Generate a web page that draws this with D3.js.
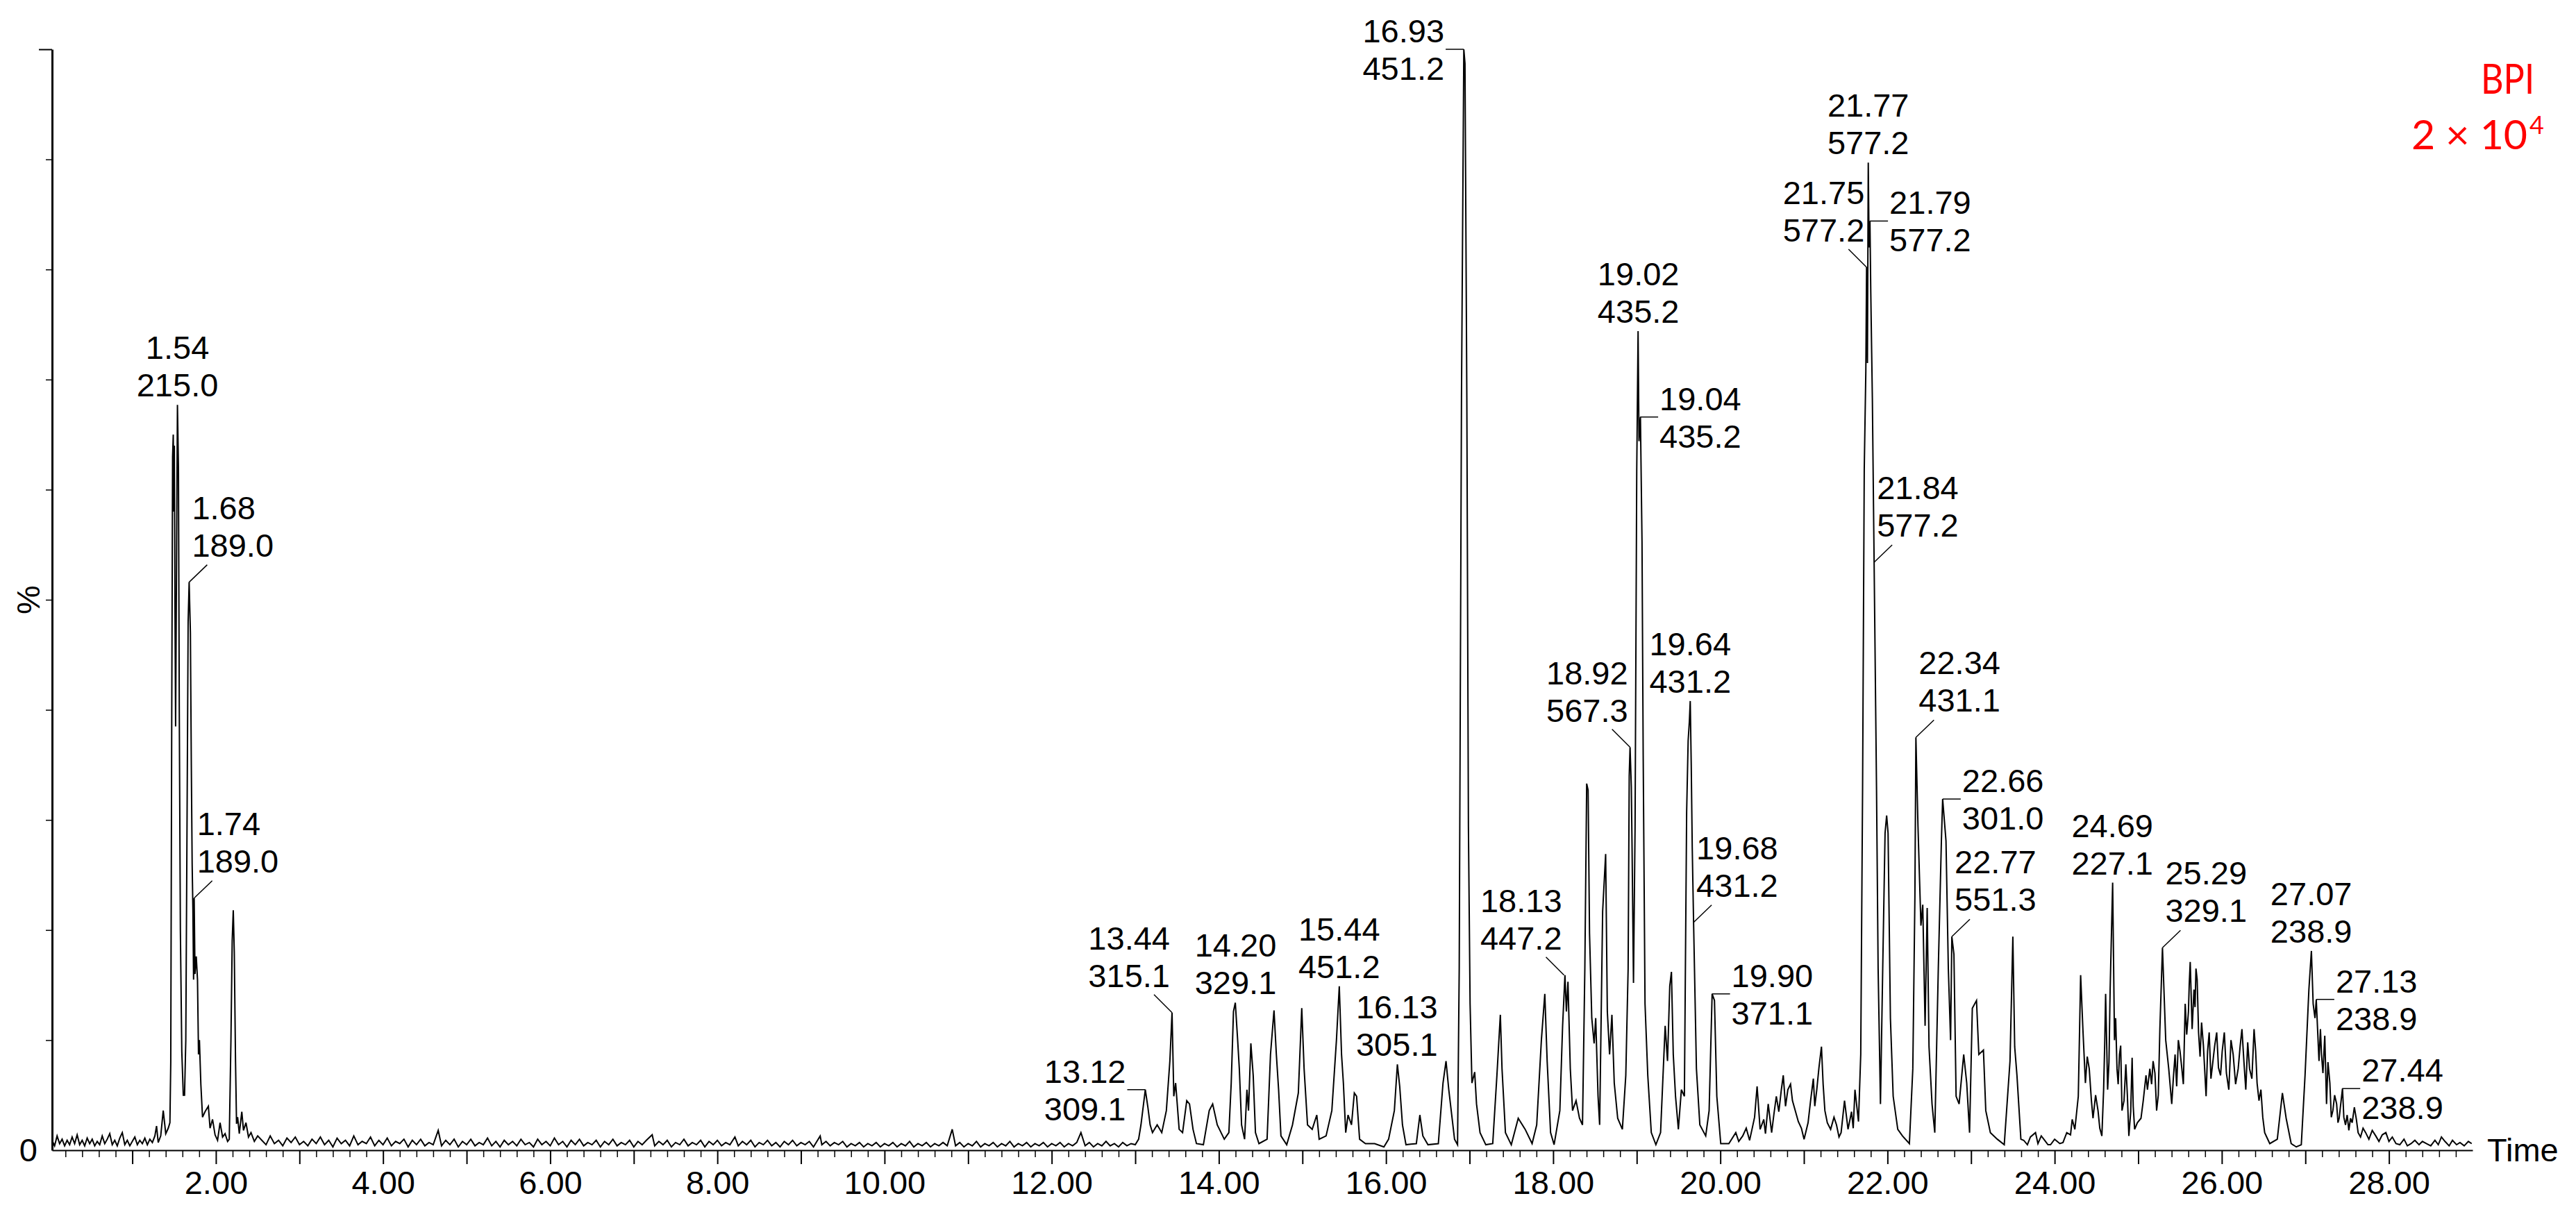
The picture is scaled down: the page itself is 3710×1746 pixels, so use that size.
<!DOCTYPE html>
<html>
<head>
<meta charset="utf-8">
<script src="https://cdn.jsdelivr.net/npm/d3@7"></script>
<style>
  body { margin: 0; background: #fff; }
  svg text { font-family: "Liberation Sans", Arial, sans-serif; }
</style>
</head>
<body>
<svg id="chart" width="3710" height="1746"></svg>
<script>
// BPI chromatogram, values as % of base peak (time in min)

// trace in pieces
const traceEarly = [
  [0.04,0.9],[0.07,0.4],[0.10,1.3],[0.13,0.6],[0.16,1.0],[0.19,0.4],[0.22,0.9],[0.25,0.5],[0.28,1.2],[0.31,0.6],
  [0.34,1.4],[0.37,0.5],[0.40,0.9],[0.43,0.4],[0.46,1.1],[0.49,0.6],[0.52,1.0],[0.55,0.4],[0.58,0.8],[0.61,0.5],
  [0.64,1.3],[0.67,0.6],[0.70,1.0],[0.73,1.5],[0.76,0.5],[0.79,0.9],[0.82,0.4],[0.85,1.1],[0.88,1.6],[0.91,0.5],
  [0.94,0.9],[0.97,0.4],[1.00,0.8],[1.03,1.2],[1.06,0.5],[1.09,0.9],[1.12,0.6],[1.15,1.1],[1.18,0.5],[1.21,1.0],
  [1.24,0.7],[1.27,1.3],[1.29,2.2],[1.31,0.7],[1.34,1.3],[1.37,3.6],[1.40,1.5],[1.43,2.0],[1.45,2.5],[1.46,8],
  [1.472,40],[1.482,63],[1.490,65],[1.497,58],[1.503,64],[1.510,50],[1.518,38.5],[1.528,52],[1.540,67.7],[1.552,62],
  [1.562,40],[1.575,20],[1.592,9],[1.610,5],[1.625,5],[1.640,10],[1.655,30],[1.668,48],[1.680,51.6],[1.695,47],
  [1.706,35],[1.716,26],[1.725,21.8],[1.733,15.5],[1.740,22.9],[1.750,16],[1.765,17.6],[1.780,15.5],[1.792,8.7],[1.803,10],
  [1.82,6],[1.84,3.0],[1.87,3.5],[1.91,4.0],[1.93,2.0],[1.96,2.8],[1.99,1.4],[2.02,0.9],[2.05,2.5],[2.08,1.2],
  [2.11,1.5],[2.14,0.8],[2.16,1.0],[2.18,10],[2.195,19],[2.208,21.8],[2.22,18],[2.235,8],[2.247,2.4],[2.26,3.0],
  [2.28,1.5],[2.31,3.5],[2.33,1.8],[2.36,2.5],[2.39,1.2],[2.42,1.6],[2.46,0.8],[2.50,1.3]
];

const traceBaseline = [
  [2.55,0.9],[2.60,0.5],[2.65,1.3],[2.70,0.6],[2.75,0.9],[2.80,0.4],[2.85,1.1],[2.90,0.7],[2.95,1.2],[3.00,0.5],
  [3.05,0.8],[3.10,0.4],[3.15,1.0],[3.20,0.6],[3.25,1.2],[3.30,0.5],[3.35,0.9],[3.40,0.3],[3.45,1.1],[3.50,0.6],
  [3.55,0.9],[3.60,0.4],[3.65,1.3],[3.70,0.5],[3.75,0.8],[3.80,0.6],[3.85,1.2],[3.90,0.4],[3.95,0.9],[4.00,0.5],
  [4.05,1.1],[4.10,0.4],[4.15,0.8],[4.20,0.6],[4.25,1.0],[4.30,0.3],[4.35,0.9],[4.40,0.5],[4.45,1.0],[4.50,0.4],
  [4.55,0.7],[4.60,0.5],[4.66,1.8],[4.70,0.4],[4.75,0.9],[4.80,0.5],[4.85,1.0],[4.90,0.3],[4.95,0.8],[5.00,0.5],
  [5.05,1.0],[5.10,0.4],[5.15,0.7],[5.20,0.5],[5.25,1.1],[5.30,0.4],[5.35,0.8],[5.40,0.3],[5.45,0.9],[5.50,0.5],
  [5.55,0.8],[5.60,0.4],[5.65,1.0],[5.70,0.5],[5.75,0.7],[5.80,0.3],[5.85,1.0],[5.90,0.5],[5.95,0.8],[6.00,0.4],
  [6.05,1.1],[6.10,0.5],[6.15,0.8],[6.20,0.3],[6.25,0.9],[6.30,0.5],[6.35,1.0],[6.40,0.4],[6.45,0.7],[6.50,0.5],
  [6.55,0.9],[6.60,0.3],[6.65,0.8],[6.70,0.5],[6.75,1.0],[6.80,0.4],[6.85,0.7],[6.90,0.5],[6.95,0.9],[7.00,0.3],
  [7.05,0.8],[7.10,0.5],[7.15,0.9],[7.22,1.4],[7.25,0.4],[7.30,0.8],[7.35,0.5],[7.40,0.9],[7.45,0.3],[7.50,0.7],
  [7.55,0.5],[7.60,1.0],[7.65,0.4],[7.70,0.7],[7.75,0.5],[7.80,0.9],[7.85,0.3],[7.90,0.8],[7.95,0.5],[8.00,0.9],
  [8.05,0.4],[8.10,0.7],[8.15,0.5],[8.21,1.2],[8.25,0.4],[8.30,0.8],[8.35,0.5],[8.40,0.9],[8.45,0.3],[8.50,0.7],
  [8.55,0.5],[8.60,0.9],[8.65,0.4],[8.70,0.7],[8.75,0.3],[8.80,0.8],[8.85,0.5],[8.90,0.9],[8.95,0.4],[9.00,0.7],
  [9.05,0.5],[9.10,0.8],[9.15,0.3],[9.23,1.3],[9.25,0.5],[9.30,0.8],[9.35,0.4],[9.40,0.7],[9.45,0.5],[9.50,0.8],
  [9.55,0.3],[9.60,0.6],[9.65,0.4],[9.70,0.7],[9.75,0.3],[9.80,0.6],[9.85,0.4],[9.90,0.7],[9.95,0.3],[10.00,0.6],
  [10.05,0.4],[10.10,0.7],[10.15,0.3],[10.20,0.6],[10.25,0.4],[10.30,0.8],[10.35,0.3],[10.40,0.6],[10.45,0.4],[10.50,0.7],
  [10.55,0.3],[10.60,0.6],[10.65,0.4],[10.70,0.7],[10.75,0.4],[10.81,1.9],[10.85,0.4],[10.90,0.7],[10.95,0.3],[11.00,0.6],
  [11.05,0.4],[11.10,0.8],[11.15,0.3],[11.20,0.6],[11.25,0.4],[11.30,0.7],[11.35,0.3],[11.40,0.6],[11.45,0.4],[11.50,0.8],
  [11.55,0.3],[11.60,0.6],[11.65,0.4],[11.70,0.7],[11.75,0.3],[11.80,0.6],[11.85,0.4],[11.90,0.7],[11.95,0.3],[12.00,0.6],
  [12.05,0.4],[12.10,0.7],[12.15,0.3],[12.20,0.6],[12.25,0.4],[12.30,0.7],[12.35,1.6],[12.40,0.4],[12.45,0.7],[12.50,0.3],
  [12.55,0.6],[12.60,0.4],[12.65,0.8],[12.70,0.4],[12.75,0.6],[12.80,0.3],[12.85,0.7],[12.90,0.4],[12.95,0.6],[13.00,0.5]
];

const traceMid = [
  [13.04,1.0],[13.068,2.3],[13.12,5.5],[13.151,3.9],[13.178,2.3],[13.206,1.6],[13.262,2.3],[13.317,1.6],[13.372,3.6],[13.414,8.1],
  [13.44,12.5],[13.461,4.9],[13.483,6.1],[13.525,1.9],[13.566,1.6],[13.616,4.5],[13.649,4.2],[13.691,1.9],[13.732,0.6],[13.815,0.5],
  [13.885,3.6],[13.926,4.2],[13.981,2.3],[14.065,1.0],[14.120,1.6],[14.148,6.1],[14.175,12.6],[14.197,13.4],[14.225,10.0],[14.245,7.4],
  [14.272,2.3],[14.308,1.0],[14.336,5.5],[14.355,3.6],[14.383,9.7],[14.411,6.8],[14.438,1.6],[14.480,0.6],[14.577,1.0],[14.618,8.7],
  [14.660,12.7],[14.688,8.7],[14.715,5.5],[14.743,1.3],[14.812,0.5],[14.881,2.3],[14.951,5.2],[14.992,12.9],[15.020,7.4],[15.061,2.3],
  [15.117,1.9],[15.172,3.2],[15.200,1.0],[15.283,1.3],[15.352,3.6],[15.407,10.0],[15.441,14.9],[15.468,8.7],[15.490,6.1],[15.518,1.6],
  [15.546,3.2],[15.587,2.3],[15.621,5.2],[15.648,4.9],[15.684,1.0],[15.754,0.6],[15.864,0.6],[15.975,0.3],[16.031,1.0],[16.100,3.6],
  [16.136,7.8],[16.164,5.8],[16.197,2.3],[16.239,0.5],[16.363,0.6],[16.405,3.2],[16.441,1.3],[16.502,0.5],[16.626,0.6],[16.682,6.1],
  [16.718,8.1],[16.751,5.5],[16.820,1.0],[16.856,0.5],[16.876,16.5],[16.903,68.3],[16.931,100],[16.945,98.7],[16.967,68.3],[16.986,29.4],
  [17.006,13.3],[17.028,6.1],[17.061,7.1],[17.083,4.2],[17.125,1.6],[17.194,0.5],[17.277,0.6],[17.327,6.8],[17.368,12.3],[17.388,7.4],
  [17.429,1.6],[17.499,0.5],[17.582,2.9],[17.665,1.9],[17.748,0.6],[17.803,2.3],[17.859,10.0],[17.900,14.2],[17.928,8.1],[17.969,1.6],
  [18.011,0.5],[18.080,3.6],[18.113,11.3],[18.141,15.9],[18.158,12.6],[18.177,15.3],[18.205,7.4],[18.232,3.6],[18.274,4.5],[18.315,2.9],
  [18.351,2.3],[18.379,16.5],[18.401,33.3],[18.418,32.7],[18.435,19.7],[18.462,12.0],[18.490,9.7],[18.509,12.0],[18.537,4.9],[18.556,2.3],
  [18.592,21.7],[18.628,26.9],[18.648,12.6],[18.675,8.7],[18.703,12.3],[18.731,6.1],[18.772,2.9],[18.828,1.9],[18.869,6.8],[18.897,16.5],
  [18.910,34.0],[18.920,36.6],[18.935,33.0],[18.944,27.5],[18.961,15.2],[18.980,29.4],[19.000,61.8],[19.016,74.4],[19.027,64.4],[19.044,66.6],
  [19.063,55.3],[19.077,35.9],[19.099,13.3],[19.132,6.8],[19.174,1.6],[19.229,0.5],[19.285,1.6],[19.340,11.3],[19.368,8.1],[19.395,14.9],
  [19.415,16.2],[19.437,8.7],[19.464,4.9],[19.498,1.9],[19.534,5.5],[19.570,4.9],[19.597,30.7],[19.615,37.2],[19.630,39.0],[19.640,40.8],
  [19.652,35.0],[19.664,27.5],[19.680,20.7],[19.714,7.4],[19.755,2.3],[19.825,1.3],[19.866,3.6],[19.902,14.2],[19.930,13.6],[19.958,4.9],
  [20.005,0.6],[20.102,0.6]
];

const traceLate = [
  [20.185,1.6],[20.22,0.8],[20.268,1.3],[20.31,2.0],[20.35,0.9],[20.379,1.9],[20.41,3.0],[20.440,5.8],[20.476,1.9],[20.52,2.8],
  [20.54,1.5],[20.573,4.2],[20.614,1.6],[20.64,3.2],[20.670,4.9],[20.70,3.5],[20.73,5.5],[20.753,6.8],[20.78,4.0],[20.808,5.5],
  [20.84,6.0],[20.863,4.5],[20.90,3.5],[20.933,2.6],[20.97,2.0],[21.002,1.0],[21.05,2.5],[21.08,4.5],[21.113,6.5],[21.13,4.0],
  [21.154,5.5],[21.18,7.5],[21.210,9.4],[21.23,6.0],[21.251,3.6],[21.28,2.5],[21.320,1.9],[21.36,3.0],[21.390,2.3],[21.42,1.2],
  [21.445,1.6],[21.486,4.5],[21.528,1.9],[21.57,3.5],[21.59,2.0],[21.611,5.5],[21.653,2.6],[21.680,8.7],[21.702,32.7],[21.722,61.8],
  [21.741,70.8],[21.750,80.2],[21.760,71.5],[21.770,89.7],[21.780,82.0],[21.790,84.4],[21.800,78.0],[21.819,68.3],[21.840,53.4],[21.850,46.3],
  [21.869,32.7],[21.888,16.5],[21.916,4.2],[21.943,16.5],[21.971,28.8],[21.990,30.4],[22.007,28.8],[22.035,12.0],[22.068,4.9],[22.123,1.9],
  [22.179,1.3],[22.262,0.6],[22.303,7.4],[22.328,23.0],[22.340,37.5],[22.365,29.4],[22.400,20.4],[22.422,22.3],[22.450,11.3],[22.475,22.0],
  [22.497,9.4],[22.533,4.2],[22.566,1.6],[22.608,16.5],[22.645,28.1],[22.660,31.9],[22.700,28.1],[22.728,16.5],[22.755,10.0],[22.770,19.4],
  [22.795,17.8],[22.821,4.9],[22.857,4.2],[22.912,8.7],[22.948,6.1],[22.982,1.6],[23.015,12.9],[23.065,13.6],[23.093,8.7],[23.148,9.1],
  [23.176,3.6],[23.231,1.6],[23.314,1.0],[23.397,0.5],[23.466,8.1],[23.500,19.4],[23.522,9.4],[23.549,6.8],[23.596,1.0],[23.63,0.9],
  [23.674,0.5],[23.71,1.2],[23.771,1.6],[23.80,0.6],[23.840,1.3],[23.88,0.9],[23.92,0.5],[23.951,0.5],[24.00,1.0],[24.062,0.6],
  [24.10,0.7],[24.145,1.6],[24.19,1.4],[24.21,2.8],[24.242,1.9],[24.283,4.9],[24.311,15.9],[24.338,11.0],[24.368,6.1],[24.39,8.5],
  [24.414,7.4],[24.44,4.5],[24.459,2.9],[24.49,5.0],[24.519,3.6],[24.54,2.0],[24.565,1.3],[24.586,5.5],[24.60,10.0],[24.610,14.2],
  [24.634,5.5],[24.65,8.0],[24.664,14.6],[24.694,24.3],[24.716,10.0],[24.73,12.0],[24.746,7.4],[24.76,6.0],[24.776,8.7],[24.79,9.5],
  [24.806,3.6],[24.83,4.5],[24.852,7.8],[24.87,5.0],[24.888,1.3],[24.91,3.5],[24.927,8.4],[24.94,4.0],[24.957,1.9],[24.99,2.5],
  [25.033,2.9],[25.06,4.5],[25.093,6.8],[25.11,5.5],[25.139,7.4],[25.16,6.0],[25.178,8.1],[25.20,7.0],[25.220,3.6],[25.24,5.0],
  [25.259,11.0],[25.290,18.4],[25.329,10.0],[25.365,7.4],[25.401,4.2],[25.42,6.5],[25.441,8.7],[25.46,5.8],[25.480,10.0],[25.50,9.0],
  [25.522,7.4],[25.54,6.0],[25.562,13.3],[25.58,10.5],[25.601,12.6],[25.61,15.0],[25.622,17.1],[25.645,11.0],[25.667,14.6],[25.68,13.0],
  [25.691,16.5],[25.705,15.5],[25.722,10.7],[25.74,8.5],[25.758,11.6],[25.78,9.5],[25.812,4.9],[25.83,9.0],[25.849,10.7],[25.87,6.5],
  [25.894,8.1],[25.915,9.5],[25.939,10.7],[25.96,7.5],[25.985,6.8],[26.005,9.0],[26.030,10.7],[26.055,7.0],[26.084,5.5],[26.11,10.0],
  [26.136,8.7],[26.165,6.0],[26.196,7.4],[26.22,9.5],[26.241,11.0],[26.265,8.0],[26.287,5.5],[26.31,9.8],[26.332,7.4],[26.36,6.5],
  [26.386,11.0],[26.405,9.0],[26.422,6.1],[26.445,4.5],[26.468,5.5],[26.49,3.0],[26.513,1.6],[26.574,0.6],[26.664,1.0],[26.725,5.2],
  [26.770,2.9],[26.830,0.6],[26.891,0.3],[26.951,0.5],[26.996,6.8],[27.042,14.6],[27.072,18.1],[27.093,13.3],[27.115,12.0],[27.130,13.7],
  [27.163,8.1],[27.18,11.0],[27.193,8.7],[27.21,7.0],[27.232,10.4],[27.253,4.2],[27.27,8.0],[27.293,6.1],[27.31,3.0],[27.329,3.6],
  [27.35,5.0],[27.374,4.2],[27.39,2.5],[27.404,2.9],[27.42,4.0],[27.444,5.6],[27.46,3.0],[27.480,2.3],[27.50,3.2],[27.52,1.8],
  [27.540,2.9],[27.56,2.5],[27.586,3.9],[27.61,2.8],[27.631,1.6],[27.66,1.2],[27.69,2.0],[27.721,1.6],[27.76,1.0],[27.80,1.8],
  [27.842,1.3],[27.88,0.8],[27.92,1.4],[27.963,1.6],[28.00,0.8],[28.04,1.2],[28.084,0.6],[28.13,0.5],[28.18,1.0],[28.22,0.4],
  [28.265,0.6],[28.31,0.9],[28.36,0.5],[28.40,0.8],[28.447,0.6],[28.50,0.4],[28.55,0.9],[28.59,0.5],[28.628,1.2],[28.67,0.8],
  [28.72,0.4],[28.76,0.9],[28.809,0.5],[28.85,0.7],[28.90,0.4],[28.95,0.8],[28.990,0.6]
];

// annotated peaks: retention time, base peak m/z
const peakTimes  = [1.54, 1.68, 1.74, 13.12, 13.44, 14.20, 15.44, 16.13, 16.93, 18.13, 18.92, 19.02, 19.04, 19.64,
                    19.68, 19.90, 21.75, 21.77, 21.79, 21.84, 22.34, 22.66, 22.77, 24.69, 25.29, 27.07, 27.13, 27.44];
const peakMasses = ["215.0", "189.0", "189.0", "309.1", "315.1", "329.1", "451.2", "305.1", "451.2", "447.2", "567.3",
                    "435.2", "435.2", "431.2", "431.2", "371.1", "577.2", "577.2", "577.2", "577.2", "431.1", "301.0",
                    "551.3", "227.1", "329.1", "238.9", "238.9", "238.9"];
// where each label sits relative to its peak
const labelSide  = ["top", "diagR", "diagR", "left", "diagL", "top", "top", "top", "left", "diagL", "diagL", "top",
                    "right", "top", "diagR", "right", "diagL", "top", "right", "diagR", "diagR", "right", "diagR",
                    "top", "diagR", "top", "right", "right"];

const xLabelTimes = [2, 4, 6, 8, 10, 12, 14, 16, 18, 20, 22, 24, 26, 28];
const yMinorTicks = [10, 20, 30, 40, 50, 60, 70, 80, 90];

const trace = traceEarly.concat(traceBaseline, traceMid, traceLate).sort((a, b) => a[0] - b[0]);

const svg = d3.select("#chart");
const FONT = 47;

const x = d3.scaleLinear().domain([0.04, 29.0]).range([75, 3561]);
const y = d3.scaleLinear().domain([0, 100]).range([1657, 71]);

// x axis: minor ticks each 0.2 min, longer ones on whole minutes
const minorTimes = d3.range(1, 145).map(i => i / 5).filter(t => Math.abs(t - Math.round(t)) > 1e-6);
svg.append("g")
  .attr("transform", "translate(0,1657)")
  .call(d3.axisBottom(x).tickValues(minorTimes).tickSize(10).tickSizeOuter(0).tickFormat(""))
  .call(g => g.select(".domain").attr("stroke-width", 2))
  .call(g => g.selectAll(".tick line").attr("stroke-width", 1.5));

svg.append("g")
  .attr("transform", "translate(0,1657)")
  .call(d3.axisBottom(x).tickValues(d3.range(1, 29)).tickSize(20).tickSizeOuter(0)
    .tickFormat(d => xLabelTimes.includes(d) ? d.toFixed(2) : ""))
  .call(g => g.select(".domain").remove())
  .call(g => g.selectAll(".tick line").attr("stroke-width", 2))
  .call(g => g.selectAll(".tick text")
    .attr("y", 63).attr("dy", 0)
    .attr("font-size", FONT)
    .attr("font-family", "Liberation Sans, Arial, sans-serif")
    .attr("fill", "#000"));

// y axis: no numbers except the 0, a longer tick at full scale
svg.append("g")
  .attr("transform", "translate(75,0)")
  .call(d3.axisLeft(y).tickValues(yMinorTicks).tickSize(9).tickSizeOuter(0).tickFormat(""))
  .call(g => g.select(".domain").attr("stroke-width", 3))
  .call(g => g.selectAll(".tick line").attr("stroke-width", 1.5));

svg.append("g")
  .attr("transform", "translate(75,0)")
  .call(d3.axisLeft(y).tickValues([100]).tickSize(19).tickFormat(""))
  .call(g => g.select(".domain").remove())
  .call(g => g.selectAll(".tick line").attr("stroke-width", 2));

svg.append("text")
  .attr("x", 54).attr("y", y(0) + 16)
  .attr("text-anchor", "end")
  .attr("font-size", FONT)
  .text("0");

svg.append("text")
  .attr("transform", "translate(57," + y(50) + ") rotate(-90)")
  .attr("text-anchor", "middle")
  .attr("font-size", FONT)
  .text("%");

svg.append("text")
  .attr("x", 3582).attr("y", 1673)
  .attr("font-size", FONT)
  .text("Time");

// the trace
const line = d3.line().x(d => x(d[0])).y(d => y(d[1]));
svg.append("path")
  .datum(trace)
  .attr("fill", "none")
  .attr("stroke", "#000")
  .attr("stroke-width", 2)
  .attr("stroke-linejoin", "miter")
  .attr("d", line);

// peak labels
function nearest(t) {
  let best = trace[0];
  trace.forEach(p => { if (Math.abs(p[0] - t) < Math.abs(best[0] - t)) best = p; });
  return best;
}

const labels = svg.append("g").attr("font-size", FONT);
peakTimes.forEach((t, i) => {
  const p = nearest(t);
  const px = x(t), py = y(p[1]);
  const side = labelSide[i];
  let tx, anchor, base2, lead = null;
  switch (side) {
    case "top":
      tx = px; anchor = "middle"; base2 = py - 12;
      break;
    case "left":
      lead = [px - 26, py, px, py];
      tx = px - 28; anchor = "end"; base2 = py + 44;
      break;
    case "right":
      lead = [px, py, px + 26, py];
      tx = px + 28; anchor = "start"; base2 = py + 44;
      break;
    case "diagR":
      lead = [px, py, px + 26, py - 25];
      tx = px + 4; anchor = "start"; base2 = py - 37;
      break;
    case "diagL":
      lead = [px - 26, py - 26, px, py];
      tx = px - 3; anchor = "end"; base2 = py - 37;
      break;
  }
  if (lead) {
    labels.append("line")
      .attr("x1", lead[0]).attr("y1", lead[1])
      .attr("x2", lead[2]).attr("y2", lead[3])
      .attr("stroke", "#000").attr("stroke-width", 1.5);
  }
  labels.append("text").attr("x", tx).attr("y", base2 - 54)
    .attr("text-anchor", anchor).text(t.toFixed(2));
  labels.append("text").attr("x", tx).attr("y", base2)
    .attr("text-anchor", anchor).text(peakMasses[i]);
});

// trace name and scale, top right
svg.append("text")
  .attr("x", 3650).attr("y", 135)
  .attr("text-anchor", "end")
  .attr("fill", "#ff0000")
  .attr("font-size", 60)
  .style("font-family", "Lato, 'Open Sans', sans-serif")
  .attr("textLength", 77).attr("lengthAdjust", "spacingAndGlyphs")
  .text("BPI");

const scaleText = svg.append("text")
  .attr("x", 3473).attr("y", 215)
  .attr("fill", "#ff0000")
  .attr("font-size", 59)
  .style("font-family", "Lato, 'Open Sans', sans-serif");
scaleText.append("tspan").text("2 \u00d7 10");
scaleText.append("tspan")
  .attr("dx", 3).attr("dy", -22)
  .attr("font-size", 36)
  .text("4");
</script>
</body>
</html>
